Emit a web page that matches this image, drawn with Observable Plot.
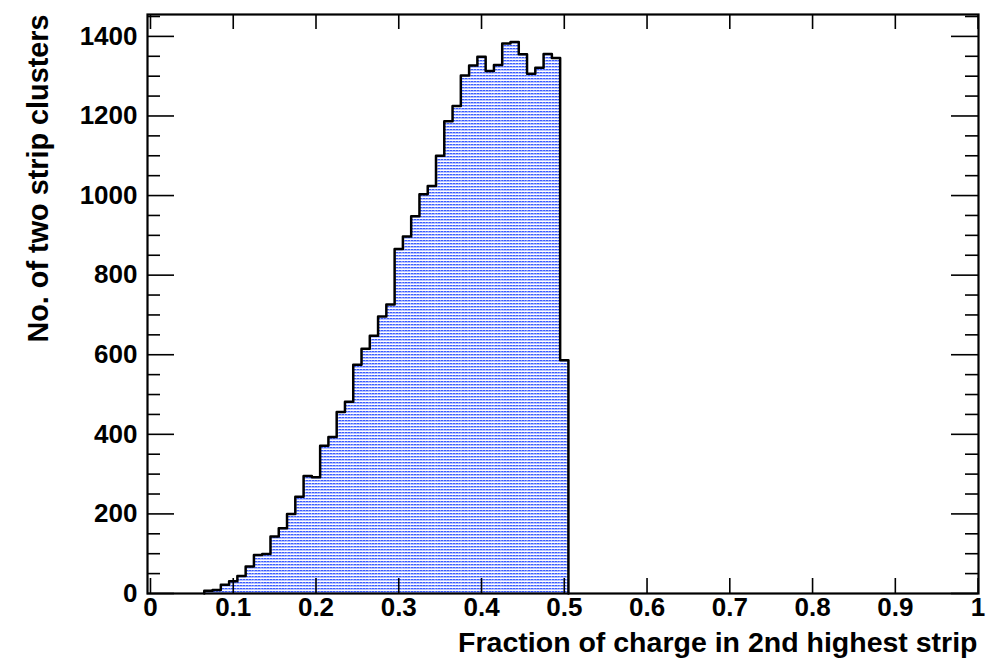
<!DOCTYPE html>
<html>
<head>
<meta charset="utf-8">
<script src="https://cdn.jsdelivr.net/npm/d3@7"></script>
<script src="https://cdn.jsdelivr.net/npm/@observablehq/plot@0.6"></script>
<style>
  html, body { margin: 0; padding: 0; background: #fff; }
  #chart svg { display: block; }
</style>
</head>
<body>
<div id="chart"></div>
<script>
// Bin centers (width 0.01) and counts
const binCenters = [0.07,0.08,0.09,0.10,0.11,0.12,0.13,0.14,0.15,0.16,0.17,0.18,0.19,0.20,0.21,0.22,0.23,0.24,0.25,0.26,0.27,0.28,0.29,0.30,0.31,0.32,0.33,0.34,0.35,0.36,0.37,0.38,0.39,0.40,0.41,0.42,0.43,0.44,0.45,0.46,0.47,0.48,0.49,0.50];
const counts = [7,9,22,31,44,68,97,99,143,164,200,243,295,292,371,393,456,482,575,615,648,696,726,866,897,948,1003,1024,1100,1187,1225,1302,1327,1349,1313,1328,1382,1386,1355,1306,1321,1356,1346,586];
const binWidth = 0.01;

const xTicks = [0,0.1,0.2,0.3,0.4,0.5,0.6,0.7,0.8,0.9,1];
const xTickLabels = ["0","0.1","0.2","0.3","0.4","0.5","0.6","0.7","0.8","0.9","1"];
const yTicks = [0,200,400,600,800,1000,1200,1400];
const yTickLabels = ["0","200","400","600","800","1000","1200","1400"];
const yMinorTicks = [50,100,150,250,300,350,450,500,550,650,700,750,850,900,950,1050,1100,1150,1250,1300,1350,1450];

const xTitle = "Fraction of charge in 2nd highest strip";
const yTitle = "No. of two strip clusters";

const bins = binCenters.map((c, i) => ({x1: c - binWidth / 2, x2: c + binWidth / 2, v: counts[i]}));
const outline = [{x: bins[0].x1, y: 0}];
bins.forEach(b => { outline.push({x: b.x1, y: b.v}); outline.push({x: b.x2, y: b.v}); });
outline.push({x: bins[bins.length - 1].x2, y: 0});

const W = 998, H = 660;
const mL = 147, mR = 20, mT = 14, mB = 67;
const innerW = W - mL - mR, innerH = H - mT - mB;
const font = "'Liberation Sans', Arial, Helvetica, sans-serif";

const chart = Plot.plot({
  width: W, height: H,
  marginLeft: mL, marginRight: mR, marginTop: mT, marginBottom: mB,
  style: {fontFamily: font, fontWeight: "bold", background: "#fff", color: "#000"},
  x: {domain: [-0.0036, 1.0005]},
  y: {domain: [0, 1455]},
  marks: [
    Plot.rectY(bins, {x1: "x1", x2: "x2", y: "v", fill: "url(#rootfill)", inset: 0}),
    Plot.line(outline, {x: "x", y: "y", stroke: "#000", strokeWidth: 2.5}),
    // x ticks, bottom and top (pointing inward)
    Plot.tickX(xTicks, {x: d => d, insetTop: innerH - 15, stroke: "#000", strokeWidth: 1.6}),
    Plot.tickX(xTicks, {x: d => d, insetBottom: innerH - 15, stroke: "#000", strokeWidth: 1.6}),
    // y ticks, left and right
    Plot.tickY(yTicks, {y: d => d, insetRight: innerW - 27, stroke: "#000", strokeWidth: 1.6}),
    Plot.tickY(yMinorTicks, {y: d => d, insetRight: innerW - 13, stroke: "#000", strokeWidth: 1.6}),
    Plot.tickY(yTicks, {y: d => d, insetLeft: innerW - 27, stroke: "#000", strokeWidth: 1.6}),
    Plot.tickY(yMinorTicks, {y: d => d, insetLeft: innerW - 13, stroke: "#000", strokeWidth: 1.6}),
    Plot.axisX({ticks: xTicks, tickSize: 0, tickPadding: 4, fontSize: 26, fontWeight: "bold",
      tickFormat: d => xTickLabels[xTicks.indexOf(d)], label: null}),
    Plot.axisY({ticks: yTicks, tickSize: 0, tickPadding: 10, fontSize: 26, fontWeight: "bold",
      tickFormat: d => yTickLabels[yTicks.indexOf(d)], label: null}),
    Plot.text([xTitle], {frameAnchor: "bottom-right", dx: -1, dy: 58, text: d => d, textAnchor: "end",
      lineAnchor: "bottom", fontSize: 28.5, fontWeight: "bold", fill: "#000"}),
    Plot.text([yTitle], {frameAnchor: "top-left", dx: -100, dy: 0, text: d => d, rotate: -90, textAnchor: "end",
      lineAnchor: "bottom", fontSize: 28.8, fontWeight: "bold", fill: "#000"}),
    Plot.frame({stroke: "#000", strokeWidth: 2.2})
  ]
});

// ROOT-style dotted blue fill pattern
const ns = "http://www.w3.org/2000/svg";
const defs = document.createElementNS(ns, "defs");
const pat = document.createElementNS(ns, "pattern");
pat.setAttribute("id", "rootfill");
pat.setAttribute("patternUnits", "userSpaceOnUse");
pat.setAttribute("width", "3");
pat.setAttribute("height", "3");
[["0","0","3","3","#ffffff"],["0","0","2","1","#3a5cff"],["2","0","1","1","#8ea0ff"],["0","1","3","1","#b4c0ff"]].forEach(([x,y,w,h,f]) => {
  const r = document.createElementNS(ns, "rect");
  r.setAttribute("x", x); r.setAttribute("y", y);
  r.setAttribute("width", w); r.setAttribute("height", h);
  r.setAttribute("fill", f);
  pat.appendChild(r);
});
defs.appendChild(pat);
chart.insertBefore(defs, chart.firstChild);

document.getElementById("chart").appendChild(chart);
</script>
</body>
</html>
